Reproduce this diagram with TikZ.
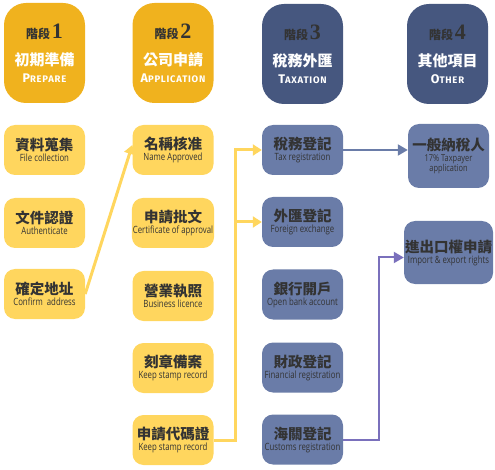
\documentclass[tikz,border=0pt]{standalone}
\usepackage{fontspec}
\usetikzlibrary{arrows.meta}
\newfontfamily\cjk{Noto Sans CJK TC}
\newfontfamily\en[FakeStretch=0.78]{Open Sans}
\newfontfamily\hdf[LetterSpace=8]{Fira Sans}
\newfontfamily\numf{Liberation Serif}
\definecolor{hdorange}{HTML}{F0B21E}
\definecolor{hdblue}{HTML}{46577F}
\definecolor{boxyellow}{HTML}{FFD65E}
\definecolor{boxblue}{HTML}{6A7CA8}
\definecolor{inkdark}{HTML}{333333}
\definecolor{lineyellow}{HTML}{FFD65E}
\definecolor{linepurple}{HTML}{7A70BC}
% header text: stage number, title, small-caps name
\newcommand{\stagehead}[4]{%
  {\cjk\bfseries\fontsize{12}{12}\selectfont\color{inkdark}階段}\,{\numf\bfseries\fontsize{22}{20}\selectfont\color{inkdark}#1}\\[12pt]
  {\cjk\bfseries\fontsize{15}{15}\selectfont\color{white}#2}\\[5pt]
  {\hdf\bfseries\color{white}\fontsize{12.5}{12}\selectfont #3\fontsize{9.5}{9}\selectfont #4}}
\newcommand{\boxtext}[2]{%
  {\cjk\bfseries\fontsize{14.5}{15}\selectfont #1}\\[-1pt]
  {\en\fontsize{10}{10}\selectfont #2}}
\begin{document}
\begin{tikzpicture}[x=1pt,y=-1pt,
  hdr/.style = {shape=rectangle, rounded corners=22pt, minimum width=81pt, minimum height=100pt, align=center, inner sep=0pt},
  ohdr/.style = {hdr, fill=hdorange},
  bhdr/.style = {hdr, fill=hdblue},
  stepbox/.style = {shape=rectangle, rounded corners=11pt, minimum width=81pt, minimum height=50pt, align=center, inner sep=1pt, text=inkdark},
  ybox/.style = {stepbox, fill=boxyellow},
  bbox/.style = {stepbox, fill=boxblue},
  yline/.style = {draw=lineyellow, line width=3pt, -{Triangle[length=9pt,width=11pt]}},
  bline/.style = {draw=boxblue, line width=2pt, -{Triangle[length=10pt,width=11pt]}},
  pline/.style = {draw=linepurple, line width=2pt, -{Triangle[length=10pt,width=11pt]}}]
  \useasboundingbox (0,0) rectangle (495,470);
  % headers
  \node[ohdr] (hd1) at (44.5,53) {\stagehead{1}{初期準備}{P}{REPARE}};
  \node[ohdr] (hd2) at (173,53) {\stagehead{2}{公司申請}{A}{PPLICATION}};
  \node[bhdr] (hd3) at (302.5,54) {\stagehead{3}{稅務外匯}{T}{AXATION}};
  \node[bhdr] (hd4) at (447.5,54) {\stagehead{4}{其他項目}{O}{THER}};
  % stage 1
  \node[ybox] (prep1) at (44.5,150) {\boxtext{資料蒐集}{File collection}};
  \node[ybox] (prep2) at (44.5,223) {\boxtext{文件認證}{Authenticate}};
  \node[ybox] (prep3) at (44.5,294) {\boxtext{確定地址}{Confirm\ \ address}};
  % stage 2
  \node[ybox] (app1) at (173,150) {\boxtext{名稱核准}{Name Approved}};
  \node[ybox] (app2) at (173,223) {\boxtext{申請批文}{Certificate of approval}};
  \node[ybox] (app3) at (173,296) {\boxtext{營業執照}{Business licence}};
  \node[ybox] (app4) at (173,368) {\boxtext{刻章備案}{Keep stamp record}};
  \node[ybox] (app5) at (173,440) {\boxtext{申請代碼證}{Keep stamp record}};
  % stage 3
  \node[bbox] (tax1) at (302.5,150) {\boxtext{稅務登記}{Tax registration}};
  \node[bbox] (tax2) at (302.5,222) {\boxtext{外匯登記}{Foreign exchange}};
  \node[bbox] (tax3) at (302.5,294.5) {\boxtext{銀行開戶}{Open bank account}};
  \node[bbox] (tax4) at (302.5,367.5) {\boxtext{財政登記}{Financial registration}};
  \node[bbox] (tax5) at (302.5,439.5) {\boxtext{海關登記}{Customs registration}};
  % stage 4
  \node[bbox, minimum height=64pt] (oth1) at (448.5,156)
    {{\cjk\bfseries\fontsize{14.5}{15}\selectfont 一般納稅人}\\[-1pt]
     {\en\fontsize{9.5}{8}\selectfont 17\% Taxpayer}\\[-2pt]
     {\en\fontsize{9.5}{8}\selectfont application}};
  \node[bbox, minimum height=63pt] (oth2) at (448.5,252.5) {\boxtext{進出口權申請}{Import \& export rights}};
  % connectors
  \draw[yline] (prep3.east) -- ([yshift=5pt]app1.west);
  \draw[yline] (app5.east) -- ++(22,0) |- (tax1.west);
  \draw[yline] (app5.east) ++(22,0) |- (tax2.west);
  \draw[bline] (tax1.east) -- (tax1.east -| oth1.west);
  \draw[pline] (tax5.east) -- ++(36,0) |- ([yshift=-5pt]oth2.west);
\end{tikzpicture}
\end{document}
